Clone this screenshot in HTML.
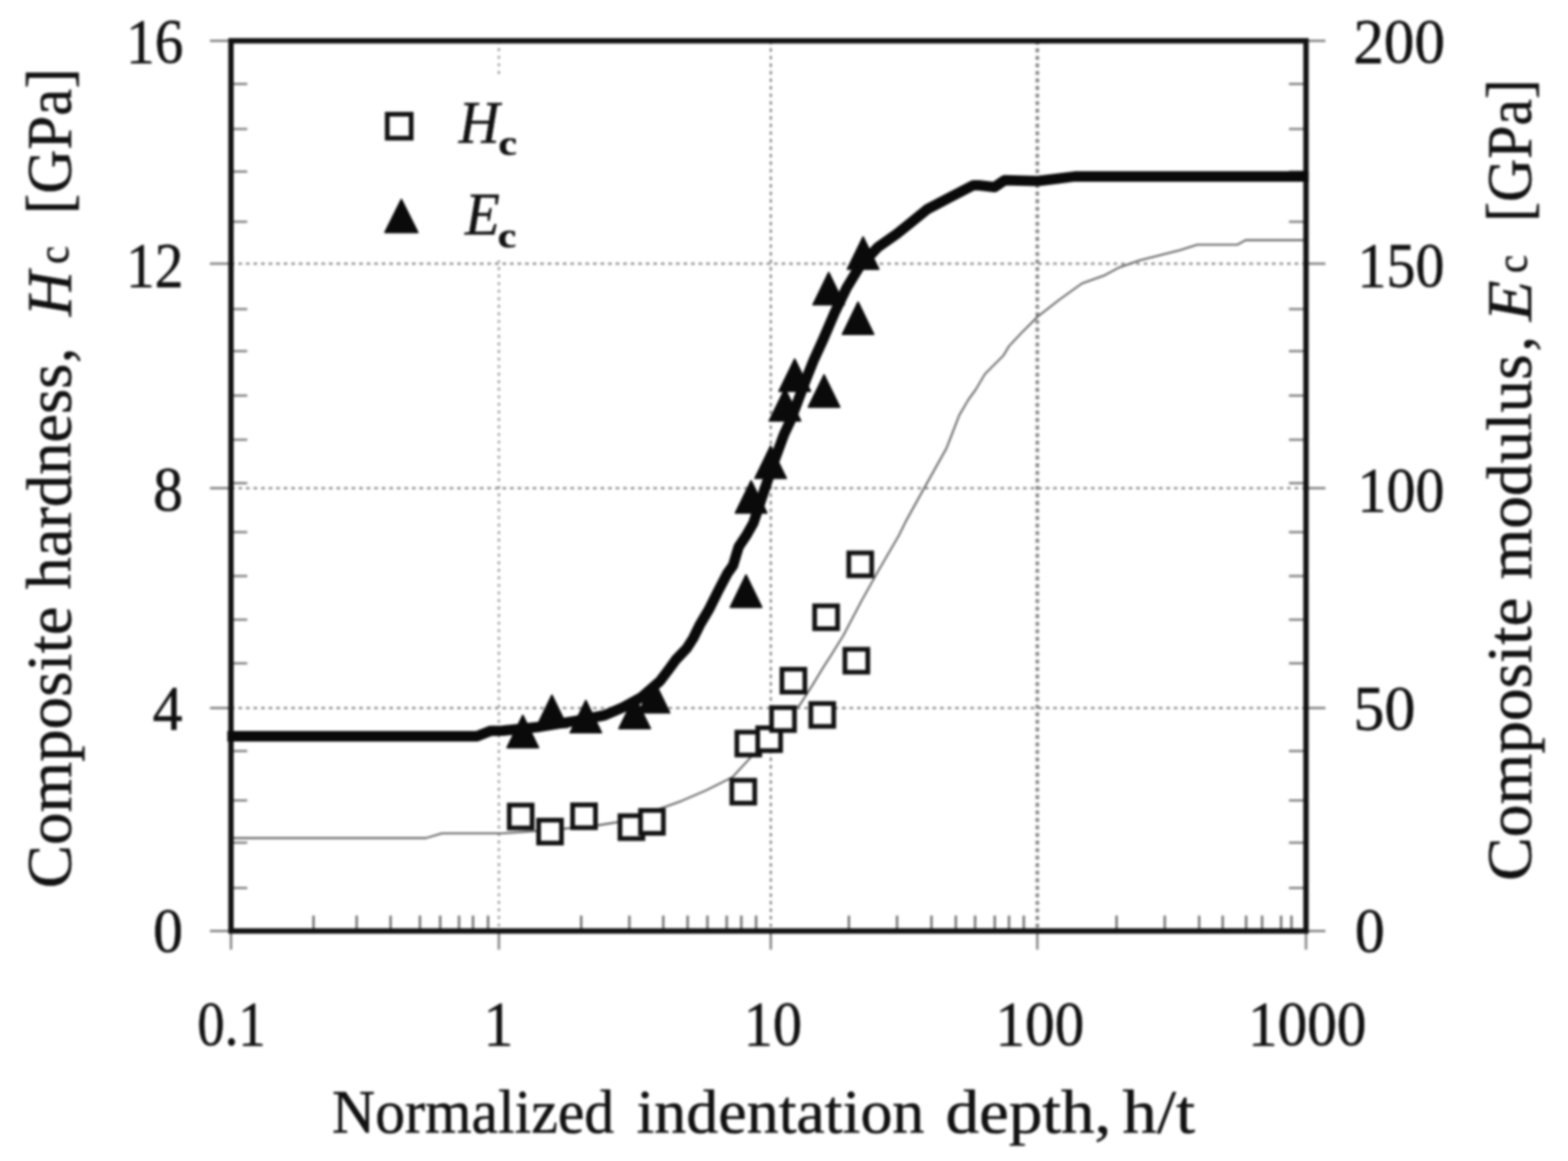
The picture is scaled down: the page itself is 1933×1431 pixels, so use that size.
<!DOCTYPE html>
<html lang="en"><head><meta charset="utf-8"><title>Composite hardness and modulus vs normalized indentation depth</title>
<style>
html,body{margin:0;padding:0;background:#fff;}
body{width:1933px;height:1431px;overflow:hidden;}
svg{display:block;}
text{font-family:"Liberation Serif", "DejaVu Serif", serif;fill:#111;stroke:#111;stroke-linejoin:round;}
</style></head><body>
<svg xmlns="http://www.w3.org/2000/svg" width="1933" height="1431" viewBox="0 0 1933 1431">
<defs><filter id="soft" x="-20" y="-20" width="1973" height="1471" filterUnits="userSpaceOnUse" color-interpolation-filters="sRGB"><feGaussianBlur stdDeviation="1.7"/></filter></defs>
<rect width="1933" height="1431" fill="#fff"/>
<g filter="url(#soft)">
<rect x="-20" y="-20" width="1973" height="1471" fill="#fff"/>
<g stroke="#7c7c7c" stroke-width="2.6" stroke-dasharray="4.2 5.1" fill="none">
<line x1="284.8" y1="325.0" x2="1610.0" y2="325.0"/>
<line x1="284.8" y1="601.7" x2="1610.0" y2="601.7"/>
<line x1="284.8" y1="872.7" x2="1610.0" y2="872.7"/>
<line x1="615.0" y1="50.3" x2="615.0" y2="1147.5" stroke="#909090" stroke-dasharray="3.4 5.9"/>
<line x1="950.2" y1="50.3" x2="950.2" y2="1147.5"/>
<line x1="1278.8" y1="50.3" x2="1278.8" y2="1147.5" stroke="#858585" stroke-width="4.4" stroke-dasharray="4.8 4.5"/>
</g>
<rect x="452" y="93" width="215" height="228" fill="#fff"/>
<g stroke="#7e7e7e" stroke-width="2.8" fill="none">
<line x1="258.8" y1="50.3" x2="284.8" y2="50.3"/>
<line x1="1610.0" y1="50.3" x2="1634.0" y2="50.3"/>
<line x1="258.8" y1="325.0" x2="284.8" y2="325.0"/>
<line x1="1610.0" y1="325.0" x2="1634.0" y2="325.0"/>
<line x1="258.8" y1="601.7" x2="284.8" y2="601.7"/>
<line x1="1610.0" y1="601.7" x2="1634.0" y2="601.7"/>
<line x1="258.8" y1="872.7" x2="284.8" y2="872.7"/>
<line x1="1610.0" y1="872.7" x2="1634.0" y2="872.7"/>
<line x1="258.8" y1="1147.5" x2="284.8" y2="1147.5"/>
<line x1="1610.0" y1="1147.5" x2="1634.0" y2="1147.5"/>
<line x1="284.8" y1="1147.5" x2="284.8" y2="1170.5"/>
<line x1="615.0" y1="1147.5" x2="615.0" y2="1170.5"/>
<line x1="950.2" y1="1147.5" x2="950.2" y2="1170.5"/>
<line x1="1278.8" y1="1147.5" x2="1278.8" y2="1170.5"/>
<line x1="1610.0" y1="1147.5" x2="1610.0" y2="1170.5"/>
</g>
<g stroke="#808080" stroke-width="2.8" fill="none">
<line x1="284.8" y1="103.5" x2="304.8" y2="103.5"/>
<line x1="1589.0" y1="103.5" x2="1610.0" y2="103.5"/>
<line x1="284.8" y1="159.0" x2="304.8" y2="159.0"/>
<line x1="1589.0" y1="159.0" x2="1610.0" y2="159.0"/>
<line x1="284.8" y1="211.5" x2="304.8" y2="211.5"/>
<line x1="1589.0" y1="211.5" x2="1610.0" y2="211.5"/>
<line x1="284.8" y1="273.3" x2="304.8" y2="273.3"/>
<line x1="1589.0" y1="273.3" x2="1610.0" y2="273.3"/>
<line x1="284.8" y1="381.0" x2="304.8" y2="381.0"/>
<line x1="1589.0" y1="381.0" x2="1610.0" y2="381.0"/>
<line x1="284.8" y1="432.8" x2="304.8" y2="432.8"/>
<line x1="1589.0" y1="432.8" x2="1610.0" y2="432.8"/>
<line x1="284.8" y1="487.6" x2="304.8" y2="487.6"/>
<line x1="1589.0" y1="487.6" x2="1610.0" y2="487.6"/>
<line x1="284.8" y1="542.0" x2="304.8" y2="542.0"/>
<line x1="1589.0" y1="542.0" x2="1610.0" y2="542.0"/>
<line x1="284.8" y1="595.5" x2="304.8" y2="595.5"/>
<line x1="1589.0" y1="595.5" x2="1610.0" y2="595.5"/>
<line x1="284.8" y1="655.9" x2="304.8" y2="655.9"/>
<line x1="1589.0" y1="655.9" x2="1610.0" y2="655.9"/>
<line x1="284.8" y1="710.0" x2="304.8" y2="710.0"/>
<line x1="1589.0" y1="710.0" x2="1610.0" y2="710.0"/>
<line x1="284.8" y1="763.8" x2="304.8" y2="763.8"/>
<line x1="1589.0" y1="763.8" x2="1610.0" y2="763.8"/>
<line x1="284.8" y1="817.6" x2="304.8" y2="817.6"/>
<line x1="1589.0" y1="817.6" x2="1610.0" y2="817.6"/>
<line x1="284.8" y1="925.7" x2="304.8" y2="925.7"/>
<line x1="1589.0" y1="925.7" x2="1610.0" y2="925.7"/>
<line x1="284.8" y1="986.6" x2="304.8" y2="986.6"/>
<line x1="1589.0" y1="986.6" x2="1610.0" y2="986.6"/>
<line x1="284.8" y1="1038.7" x2="304.8" y2="1038.7"/>
<line x1="1589.0" y1="1038.7" x2="1610.0" y2="1038.7"/>
<line x1="284.8" y1="1094.5" x2="304.8" y2="1094.5"/>
<line x1="1589.0" y1="1094.5" x2="1610.0" y2="1094.5"/>
</g>
<g stroke="#6e6e6e" stroke-width="2.9" fill="none">
<line x1="386.5" y1="1128.5" x2="386.5" y2="1147.5"/>
<line x1="439.7" y1="1128.5" x2="439.7" y2="1147.5"/>
<line x1="481.5" y1="1128.5" x2="481.5" y2="1147.5"/>
<line x1="517.7" y1="1128.5" x2="517.7" y2="1147.5"/>
<line x1="542.7" y1="1128.5" x2="542.7" y2="1147.5"/>
<line x1="565.9" y1="1128.5" x2="565.9" y2="1147.5"/>
<line x1="583.1" y1="1128.5" x2="583.1" y2="1147.5"/>
<line x1="601.7" y1="1128.5" x2="601.7" y2="1147.5"/>
<line x1="716.5" y1="1128.5" x2="716.5" y2="1147.5"/>
<line x1="775.9" y1="1128.5" x2="775.9" y2="1147.5"/>
<line x1="817.7" y1="1128.5" x2="817.7" y2="1147.5"/>
<line x1="847.7" y1="1128.5" x2="847.7" y2="1147.5"/>
<line x1="872.1" y1="1128.5" x2="872.1" y2="1147.5"/>
<line x1="895.9" y1="1128.5" x2="895.9" y2="1147.5"/>
<line x1="913.9" y1="1128.5" x2="913.9" y2="1147.5"/>
<line x1="932.1" y1="1128.5" x2="932.1" y2="1147.5"/>
<line x1="1046.5" y1="1128.5" x2="1046.5" y2="1147.5"/>
<line x1="1105.9" y1="1128.5" x2="1105.9" y2="1147.5"/>
<line x1="1148.3" y1="1128.5" x2="1148.3" y2="1147.5"/>
<line x1="1178.3" y1="1128.5" x2="1178.3" y2="1147.5"/>
<line x1="1202.1" y1="1128.5" x2="1202.1" y2="1147.5"/>
<line x1="1226.3" y1="1128.5" x2="1226.3" y2="1147.5"/>
<line x1="1243.9" y1="1128.5" x2="1243.9" y2="1147.5"/>
<line x1="1262.1" y1="1128.5" x2="1262.1" y2="1147.5"/>
<line x1="1376.5" y1="1128.5" x2="1376.5" y2="1147.5"/>
<line x1="1435.9" y1="1128.5" x2="1435.9" y2="1147.5"/>
<line x1="1478.3" y1="1128.5" x2="1478.3" y2="1147.5"/>
<line x1="1507.3" y1="1128.5" x2="1507.3" y2="1147.5"/>
<line x1="1536.2" y1="1128.5" x2="1536.2" y2="1147.5"/>
<line x1="1555.9" y1="1128.5" x2="1555.9" y2="1147.5"/>
<line x1="1579.3" y1="1128.5" x2="1579.3" y2="1147.5"/>
<line x1="1592.1" y1="1128.5" x2="1592.1" y2="1147.5"/>
</g>
<polyline points="285.0,1033.0 525.0,1033.0 545.0,1027.2 620.0,1027.2 680.0,1023.0 738.5,1017.0 760.7,1013.5 790.0,1004.0 821.1,994.2 840.0,987.3 869.7,974.5 902.8,958.0 922.5,936.7 950.0,905.0 986.3,868.4 1002.3,843.3 1014.7,822.9 1025.0,806.8 1039.8,783.0 1062.5,739.8 1083.0,703.3 1108.1,660.0 1116.5,642.9 1139.2,601.9 1166.6,552.9 1171.1,541.5 1182.5,511.9 1193.9,492.5 1203.0,480.0 1214.2,461.0 1237.0,438.2 1243.8,426.8 1259.8,409.8 1279.1,390.4 1305.3,369.9 1333.8,349.4 1362.3,339.1 1380.0,329.6 1404.9,320.9 1429.8,314.7 1454.6,308.4 1475.8,301.6 1525.6,301.6 1535.5,296.0 1610.0,296.0" fill="none" stroke="#626262" stroke-width="2.3" stroke-linejoin="round"/>
<rect x="284.75" y="50.30" width="1325.25" height="1097.20" fill="none" stroke="#111" stroke-width="6.6"/>
<g fill="#fff" stroke="#111" stroke-width="5.8">
<rect x="627.8" y="992.3" width="28.2" height="28.2"/>
<rect x="664.0" y="1010.9" width="28.2" height="28.2"/>
<rect x="705.9" y="992.0" width="28.2" height="28.2"/>
<rect x="764.3" y="1005.4" width="28.2" height="28.2"/>
<rect x="789.6" y="998.9" width="28.2" height="28.2"/>
<rect x="902.2" y="961.7" width="28.2" height="28.2"/>
<rect x="908.4" y="902.4" width="28.2" height="28.2"/>
<rect x="934.1" y="897.0" width="28.2" height="28.2"/>
<rect x="951.2" y="872.2" width="28.2" height="28.2"/>
<rect x="964.0" y="824.9" width="28.2" height="28.2"/>
<rect x="999.6" y="867.1" width="28.2" height="28.2"/>
<rect x="1004.3" y="746.7" width="28.2" height="28.2"/>
<rect x="1041.6" y="800.3" width="28.2" height="28.2"/>
<rect x="1046.4" y="681.5" width="28.2" height="28.2"/>
<rect x="477.4" y="140.8" width="29.5" height="29.5"/>
</g>
<polyline points="280.3,907.5 588.0,907.5 605.0,900.8 620.0,900.6 665.6,895.8 710.0,888.5 745.3,881.6 768.1,871.8 790.9,859.4 813.6,839.5 824.2,825.5 833.3,813.0 846.6,799.1 854.6,786.6 862.5,770.6 873.9,751.3 885.3,728.5 896.7,706.8 903.8,696.7 910.6,674.0 919.8,660.3 928.9,644.3 941.0,608.0 954.0,569.5 966.6,535.3 974.6,518.2 993.9,467.0 1003.0,444.2 1014.5,419.0 1029.0,385.3 1043.8,354.6 1059.8,328.4 1082.5,304.4 1105.3,288.5 1124.0,273.5 1143.0,258.0 1171.3,243.2 1199.8,228.4 1206.6,228.4 1226.0,230.6 1238.5,222.1 1279.5,223.2 1302.3,220.4 1325.1,217.5 1613.2,217.5" fill="none" stroke="#0a0a0a" stroke-width="12.8" stroke-linejoin="round" stroke-linecap="butt"/>
<g fill="#0a0a0a" stroke="#0a0a0a" stroke-width="2" stroke-linejoin="round">
<polygon points="625.2,921.4 663.8,921.4 644.5,881.8"/>
<polygon points="661.1,896.6 699.7,896.6 680.4,857.0"/>
<polygon points="702.9,903.1 741.5,903.1 722.2,863.5"/>
<polygon points="763.1,898.0 801.7,898.0 782.4,858.4"/>
<polygon points="787.0,878.6 825.6,878.6 806.3,839.0"/>
<polygon points="900.4,748.4 939.0,748.4 919.7,708.8"/>
<polygon points="906.7,632.3 945.3,632.3 926.0,592.7"/>
<polygon points="930.7,589.6 969.3,589.6 950.0,550.0"/>
<polygon points="1044.7,331.7 1083.3,331.7 1064.0,292.1"/>
<polygon points="1002.3,375.6 1040.9,375.6 1021.6,336.0"/>
<polygon points="1038.5,412.1 1077.1,412.1 1057.8,372.5"/>
<polygon points="960.4,482.3 999.0,482.3 979.7,442.7"/>
<polygon points="996.6,501.7 1035.2,501.7 1015.9,462.1"/>
<polygon points="948.4,518.8 987.0,518.8 967.7,479.2"/>
<polygon points="474.6,286.4 515.0,286.4 494.8,245.9"/>
</g>
<text transform="translate(565.55 175.60) scale(0.9545 1)" font-size="73.0" font-style="italic" stroke-width="0.60">H</text>
<text transform="translate(614.46 190.60) scale(1.1577 1)" font-size="44.0" font-weight="bold" stroke-width="0.60">c</text>
<text transform="translate(573.32 288.90) scale(0.9623 1)" font-size="73.0" font-style="italic" stroke-width="0.60">E</text>
<text transform="translate(613.76 304.60) scale(1.1577 1)" font-size="44.0" font-weight="bold" stroke-width="0.60">c</text>
<text transform="translate(155.49 76.90) scale(0.9099 1)" font-size="77.6" stroke-width="0.60">16</text>
<text transform="translate(155.49 353.00) scale(0.9098 1)" font-size="77.6" stroke-width="0.60">12</text>
<text transform="translate(188.87 629.40) scale(0.9500 1)" font-size="77.6" stroke-width="0.60">8</text>
<text transform="translate(188.28 899.40) scale(0.9500 1)" font-size="77.6" stroke-width="0.60">4</text>
<text transform="translate(188.77 1172.70) scale(0.9500 1)" font-size="77.6" stroke-width="0.60">0</text>
<text transform="translate(1668.50 77.40) scale(0.9688 1)" font-size="77.6" stroke-width="0.60">200</text>
<text transform="translate(1673.62 352.80) scale(0.9201 1)" font-size="77.6" stroke-width="0.60">150</text>
<text transform="translate(1673.62 629.60) scale(0.9201 1)" font-size="77.6" stroke-width="0.60">100</text>
<text transform="translate(1668.46 899.20) scale(0.9838 1)" font-size="77.6" stroke-width="0.60">50</text>
<text transform="translate(1670.37 1173.40) scale(0.9500 1)" font-size="77.6" stroke-width="0.60">0</text>
<text transform="translate(243.33 1288.20) scale(0.8682 1)" font-size="77.6" stroke-width="0.60">0.1</text>
<text transform="translate(596.09 1288.20) scale(0.9500 1)" font-size="77.6" stroke-width="0.60">1</text>
<text transform="translate(916.66 1288.20) scale(0.9289 1)" font-size="77.6" stroke-width="0.60">10</text>
<text transform="translate(1227.30 1288.20) scale(0.9388 1)" font-size="77.6" stroke-width="0.60">100</text>
<text transform="translate(1538.48 1287.80) scale(0.9414 1)" font-size="77.6" stroke-width="0.60">1000</text>
<text transform="translate(409.28 1395.60) scale(0.9638 1)" font-size="76.5" stroke-width="0.60">Normalized</text>
<text transform="translate(784.64 1395.60) scale(1.0313 1)" font-size="76.5" stroke-width="0.60">indentation</text>
<text transform="translate(1165.72 1395.60) scale(1.0799 1)" font-size="76.5" stroke-width="0.60">depth,</text>
<text transform="translate(1383.87 1395.60) scale(1.1061 1)" font-size="76.5" stroke-width="0.60">h/t</text>
<text transform="translate(87.10 1095.09) rotate(-90) scale(1.0286 1)" font-size="78.0" stroke-width="0.60">Composite</text>
<text transform="translate(87.10 726.48) rotate(-90) scale(1.0195 1)" font-size="78.0" stroke-width="0.60">hardness</text>
<text transform="translate(87.10 447.24) rotate(-90) scale(0.9500 1)" font-size="78.0" stroke-width="0.60">,</text>
<text transform="translate(87.10 389.77) rotate(-90) scale(0.9856 1)" font-size="78.0" font-style="italic" stroke-width="0.60">H</text>
<text transform="translate(84.10 325.30) rotate(-90) scale(0.9235 1)" font-size="54.0" stroke-width="0.60">c</text>
<text transform="translate(87.10 263.67) rotate(-90) scale(0.9628 1)" font-size="78.0" stroke-width="0.60">[GPa]</text>
<text transform="translate(1886.50 1085.81) rotate(-90) scale(1.0334 1)" font-size="78.0" stroke-width="0.60">Composite</text>
<text transform="translate(1886.50 714.29) rotate(-90) scale(1.0320 1)" font-size="78.0" stroke-width="0.60">modulus</text>
<text transform="translate(1886.50 433.09) rotate(-90) scale(0.9500 1)" font-size="78.0" stroke-width="0.60">,</text>
<text transform="translate(1886.50 395.94) rotate(-90) scale(1.0549 1)" font-size="78.0" font-style="italic" stroke-width="0.60">E</text>
<text transform="translate(1881.50 336.61) rotate(-90) scale(0.9284 1)" font-size="54.0" stroke-width="0.60">c</text>
<text transform="translate(1886.50 273.57) rotate(-90) scale(0.9450 1)" font-size="78.0" stroke-width="0.60">[GPa]</text>
</g>
</svg>
</body></html>
